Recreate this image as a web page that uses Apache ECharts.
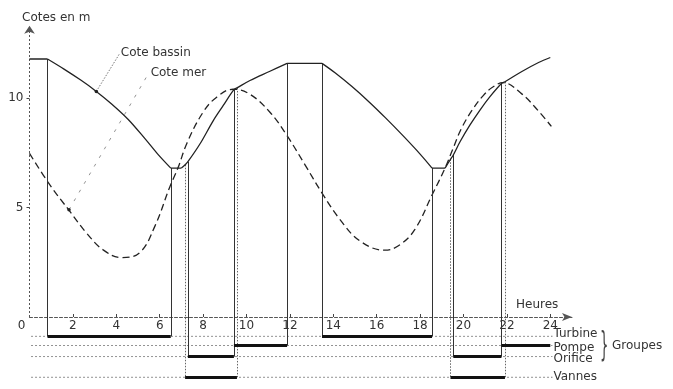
<!DOCTYPE html>
<html><head><meta charset="utf-8">
<script src="https://cdn.jsdelivr.net/npm/echarts@6/dist/echarts.min.js"></script>
<style>html,body{margin:0;padding:0;background:#fff}#c{width:673px;height:389px}</style>
</head><body><div id="c"></div>
<script>
// ---- data (hours / metres) ----
const bassinHours  = [0, 0.83, 1.59, 2.36, 2.99, 3.77, 4.55, 5.34, 5.9, 6.51, 7.0, 7.17, 7.30, 7.86, 8.47, 8.93, 9.42, 9.56, 10.16, 11.08, 11.87, 13.48, 14.08, 14.86, 15.65, 16.42, 17.21, 17.99, 18.55, 19.15, 19.40, 19.53, 19.84, 20.30, 20.76, 21.22, 21.75, 21.91, 22.67, 23.46, 24.0];
const bassinLevels = [11.78, 11.78, 11.32, 10.82, 10.37, 9.74, 9.02, 8.12, 7.45, 6.8, 6.8, 6.95, 7.09, 7.91, 8.97, 9.66, 10.38, 10.46, 10.80, 11.22, 11.58, 11.58, 11.15, 10.52, 9.82, 9.08, 8.28, 7.45, 6.8, 6.8, 7.2, 7.4, 8.0, 8.77, 9.45, 10.06, 10.66, 10.74, 11.2, 11.62, 11.85];
const bassinCorners = [0.83, 6.51, 7.0, 11.87, 13.48, 18.55, 19.15];

const seaHours  = [0, 0.94, 1.87, 2.64, 3.40, 4.25, 5.09, 5.78, 6.47, 6.84, 7.26, 8.0, 8.64, 9.38, 10.16, 11.08, 11.86, 12.69, 13.48, 14.31, 15.23, 16.38, 17.07, 17.76, 18.55, 19.15, 19.5, 19.9, 20.4, 20.9, 21.35, 21.82, 22.67, 23.46, 24.05];
const seaLevels = [7.47, 6.03, 4.81, 3.82, 3.06, 2.71, 2.95, 4.15, 5.95, 6.8, 7.95, 9.35, 10.05, 10.4, 10.17, 9.35, 8.29, 6.96, 5.66, 4.45, 3.47, 3.05, 3.3, 4.0, 5.57, 6.8, 7.65, 8.6, 9.45, 10.1, 10.5, 10.7, 10.2, 9.4, 8.7];

const groupNames = ['Turbine', 'Pompe', 'Orifice', 'Vannes'];
const groupRows  = [-0.88, -1.30, -1.81, -2.75];
const turbinePeriods = [[0.83, 6.51], [13.48, 18.55]];
const pompePeriods   = [[9.42, 11.87], [21.75, 24.0]];
const orificePeriods = [[7.30, 9.42], [19.53, 21.75]];
const vannesPeriods  = [[7.17, 9.56], [19.40, 21.91]];

const hourTicks  = [0, 2, 4, 6, 8, 10, 12, 14, 16, 18, 20, 22, 24];
const levelTicks = [5, 10];

// ---- build ----
const FONT = 'DejaVu Sans', TXT = '#333', INK = '#222';
const levelAt = h => bassinLevels[bassinHours.indexOf(h)];
const labelShift = [-2, 2, 2.5, 0];

const bassinPts = bassinHours.map((h, i) => [h, bassinLevels[i]]);
const segs = []; let cur = [];
bassinPts.forEach(p => {
  cur.push(p);
  if (bassinCorners.includes(p[0])) { if (cur.length > 1) segs.push(cur); cur = [p]; }
});
if (cur.length > 1) segs.push(cur);

const series = [];
segs.forEach(seg => series.push({
  type: 'line', data: seg, smooth: 0.35, symbol: 'none', silent: true, z: 5,
  lineStyle: { color: INK, width: 1.3 }
}));

series.push({
  type: 'line', name: 'mer', data: seaHours.map((h, i) => [h, seaLevels[i]]),
  smooth: 0.4, symbol: 'none', silent: true, z: 4,
  lineStyle: { color: INK, width: 1.3, type: [7, 4] },
  markLine: {
    silent: true, symbol: ['none', 'arrow'], symbolSize: 8, label: { show: false },
    lineStyle: { color: '#555', width: 1, type: [2, 2] },
    data: [[{ coord: [0, 0] }, { coord: [0, 13.3] }]]
  }
});

const periods = [turbinePeriods, pompePeriods, orificePeriods, vannesPeriods];

groupNames.forEach((g, i) => series.push({
  type: 'line', name: g, data: [[0.07, groupRows[i]], [24.1, groupRows[i]]],
  symbol: 'none', silent: true, z: 3,
  lineStyle: { color: '#777', width: 0.8, type: [2, 2] },
  endLabel: { show: true, formatter: '{a}', distance: 1, offset: [0, labelShift[i]], color: TXT, fontSize: 12, fontFamily: FONT }
}));

series.push({
  type: 'lines', coordinateSystem: 'cartesian2d', silent: true, z: 6,
  lineStyle: { color: '#111', width: 3, opacity: 1, cap: 'butt' },
  data: periods.flatMap((ps, i) => ps.map(p => ({ coords: [[p[0], groupRows[i]], [p[1], groupRows[i]]] })))
});

const vert = (list, row) => list.flatMap(p => p.filter(e => e < 24).map(e => ({ coords: [[e, levelAt(e)], [e, row]] })));
series.push({
  type: 'lines', coordinateSystem: 'cartesian2d', silent: true, z: 5,
  lineStyle: { color: '#333', width: 1, opacity: 1 },
  data: [0, 1, 2].flatMap(i => vert(periods[i], groupRows[i]))
});
series.push({
  type: 'lines', coordinateSystem: 'cartesian2d', silent: true, z: 5,
  lineStyle: { color: '#666', width: 1, opacity: 1, type: [1.5, 1.5] },
  data: vert(periods[3], groupRows[3])
});

// annotation leaders
series.push({
  type: 'line', name: 'Cote bassin', silent: true, z: 7, showSymbol: true,
  data: [{ value: [3.08, 10.3], symbol: 'circle', symbolSize: 3.5 }, { value: [4.16, 12.04], symbol: 'none' }],
  itemStyle: { color: INK },
  lineStyle: { color: '#555', width: 0.8, type: [1.5, 1.5] },
  endLabel: { show: true, formatter: '{a}', distance: 1, color: TXT, fontSize: 12, fontFamily: FONT }
});
series.push({
  type: 'line', name: 'Cote mer', silent: true, z: 7, showSymbol: true,
  data: [{ value: [1.82, 4.9], symbol: 'circle', symbolSize: 3.5 }, { value: [5.49, 11.13], symbol: 'none' }],
  itemStyle: { color: INK },
  lineStyle: { color: '#777', width: 0.8, type: [3, 7] },
  endLabel: { show: true, formatter: '{a}', distance: 2, color: TXT, fontSize: 12, fontFamily: FONT }
});

const GRID_BOTTOM = 1.92;
const option = {
  animation: false,
  backgroundColor: '#fff',
  textStyle: { fontFamily: FONT, color: TXT },
  title: { text: 'Cotes en m', left: 17, top: 7, textStyle: { fontSize: 12, fontWeight: 'normal', color: TXT, fontFamily: FONT } },
  grid: { left: 29.5, right: 101, top: 21.35, bottom: GRID_BOTTOM, containLabel: false, outerBoundsMode: 'none' },
  xAxis: {
    type: 'value', min: 0, max: 25,
    offset: -70.08,
    name: 'Heures', nameLocation: 'end', nameGap: -56,
    nameTextStyle: { align: 'left', verticalAlign: 'bottom', padding: [0, 0, 6, 0], fontSize: 12, color: TXT, fontFamily: FONT },
    axisLine: { onZero: false, symbol: ['none', 'arrow'], symbolSize: [6, 10], lineStyle: { color: '#555', width: 1, type: [3, 2] } },
    axisTick: { show: true, inside: true, length: 3, customValues: hourTicks.filter(v => v > 0), lineStyle: { color: '#444' } },
    axisLabel: {
      show: true, customValues: hourTicks, margin: 3, fontSize: 12, color: TXT, fontFamily: FONT,
      formatter: v => v === 0 ? '{z|0}' : String(v),
      rich: { z: { padding: [0, 16, 0, 0], fontSize: 12, color: TXT, fontFamily: FONT } }
    },
    splitLine: { show: false }
  },
  yAxis: {
    type: 'value', min: -3.2, max: 13.5,
    axisLine: { show: false },
    axisTick: { show: true, length: 3, customValues: levelTicks, lineStyle: { color: '#444' } },
    axisLabel: { customValues: levelTicks, margin: 6, fontSize: 12, color: TXT, fontFamily: FONT },
    splitLine: { show: false }
  },
  graphic: [
    { type: 'text', x: 600, y: 347, scaleX: 0.4, style: { text: '}', fontSize: 33, fontFamily: FONT, fill: '#444', verticalAlign: 'middle' } },
    { type: 'text', x: 612, y: 346, style: { text: 'Groupes', fontSize: 12, fontFamily: FONT, fill: TXT, verticalAlign: 'middle' } }
  ],
  series
};
const chart = echarts.init(document.getElementById('c'));
chart.setOption(option);
</script>
</body></html>
